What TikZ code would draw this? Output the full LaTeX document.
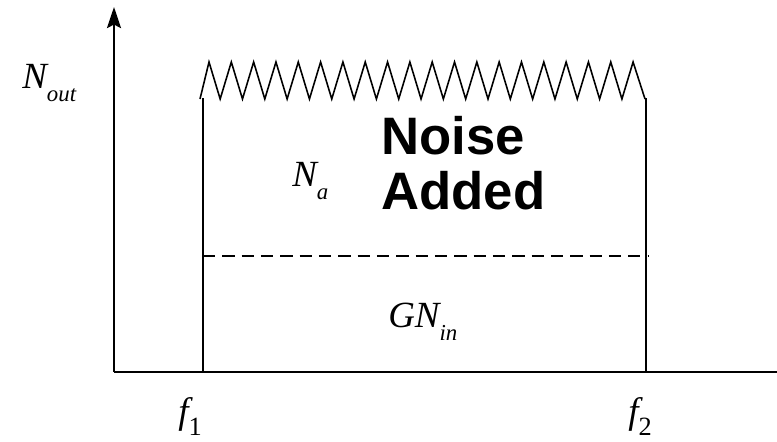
\documentclass[tikz,border=0pt]{standalone}
\usepackage{fontspec}
\setmainfont{Liberation Serif}
\newfontfamily\noisefont{Liberation Sans}
\usepackage{tikz}
\usetikzlibrary{arrows.meta}

\newcommand{\lowidx}[1]{\raisebox{-7.4pt}{\fontsize{13}{15}\selectfont\itshape #1}}
\newcommand{\lowdigit}[1]{\raisebox{-7pt}{\fontsize{15}{17}\selectfont\upshape #1}}

\begin{document}
\begin{tikzpicture}[x=0.02cm,y=-0.02cm,
    axisline/.style={line width=1.1pt},
    bandline/.style={line width=1.1pt},
    zigline/.style={line width=0.9pt,line join=miter},
    symlabel/.style={font=\fontsize{21}{24}\selectfont\itshape,inner sep=0pt,anchor=base west},
    bigtext/.style={font=\fontsize{30}{31}\selectfont\noisefont\bfseries,
                    align=left,inner sep=0pt,anchor=north west}]

  \useasboundingbox (0,0) rectangle (777,441);

  %% Axes
  \coordinate (orig) at (114,372);
  \coordinate (ytop) at (114,7);
  \coordinate (xend) at (777,372);
  \draw[axisline,-{Stealth[length=12pt,width=8pt,inset=2pt]}] (orig) -- (ytop);
  \draw[axisline] (orig) -- (xend);

  %% Band edges
  \coordinate (f1low) at (203,372);
  \coordinate (f1top) at (203,98);
  \coordinate (f2low) at (646,372);
  \coordinate (f2top) at (646,98);
  \draw[bandline] (f1low) -- (f1top);
  \draw[bandline] (f2low) -- (f2top);

  %% Noise on top
  \coordinate (zstart) at (200,99);
  \coordinate (zend) at (645,99);
  \draw[zigline] (zstart) -- (209,62)
    \foreach \i in {0,...,18} { -- ({220.16+22.32*\i},99) -- ({231.32+22.32*\i},62) }
    -- (zend);

  %% Gain level
  \coordinate (gleft) at (203,256);
  \coordinate (gright) at (649,256);
  \draw[dashed,line width=0.8pt,dash pattern=on 7pt off 4pt] (gleft) -- (gright);

  %% Labels
  \node[symlabel] (nout) at (22,88) {N\lowidx{out}};
  \node[symlabel] (na) at (292,186) {N\lowidx{a}};
  \node[symlabel] (gnin) at (388,327) {GN\lowidx{in}};
  \node[symlabel] (fone) at (178,423) {f\lowdigit{1}};
  \node[symlabel] (ftwo) at (628,423) {f\lowdigit{2}};
  \node[bigtext] (added) at (381,116) {Noise\\Added};

\end{tikzpicture}
\end{document}
